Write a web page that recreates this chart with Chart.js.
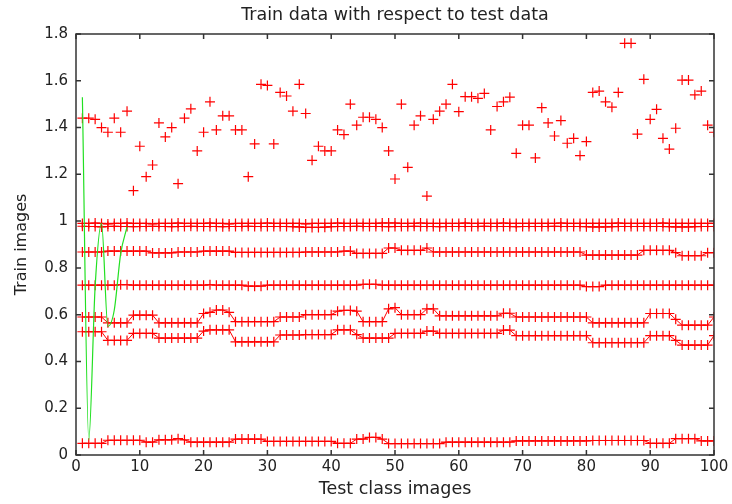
<!DOCTYPE html>
<html>
<head>
<meta charset="utf-8">
<title>Train data with respect to test data</title>
<script src="https://cdn.jsdelivr.net/npm/chart.js@4.4.1/dist/chart.umd.min.js"></script>
<style>
    html, body { margin: 0; padding: 0; background: #fff; }
    #wrap { position: relative; width: 732px; height: 504px; }
</style>
</head>
<body>
<div id="wrap"><canvas id="chartTrain"></canvas></div>
<script>
// Datos (x = imagen de prueba 1..100)
const xTicks = [0, 10, 20, 30, 40, 50, 60, 70, 80, 90, 100];
const yTicks = [0, 0.2, 0.4, 0.6, 0.8, 1, 1.2, 1.4, 1.6, 1.8];

// Fila dispersa de arriba (solo marcadores)
const filaAlta = [
    1.44, 1.44, 1.435, 1.40, 1.38, 1.44, 1.38, 1.47, 1.13, 1.32,
    1.19, 1.24, 1.42, 1.36, 1.40, 1.16, 1.44, 1.48, 1.30, 1.38,
    1.51, 1.39, 1.45, 1.45, 1.39, 1.39, 1.19, 1.33, 1.585, 1.58,
    1.33, 1.55, 1.535, 1.47, 1.585, 1.46, 1.26, 1.32, 1.30, 1.30,
    1.39, 1.37, 1.50, 1.41, 1.444, 1.444, 1.435, 1.40, 1.30, 1.18,
    1.50, 1.23, 1.41, 1.45, 1.107, 1.435, 1.47, 1.50, 1.585, 1.468,
    1.532, 1.532, 1.525, 1.546, 1.39, 1.49, 1.51, 1.53, 1.29, 1.41,
    1.41, 1.27, 1.485, 1.42, 1.364, 1.43, 1.333, 1.354, 1.28, 1.34,
    1.55, 1.556, 1.51, 1.487, 1.55, 1.76, 1.76, 1.372, 1.606, 1.435,
    1.478, 1.354, 1.308, 1.397, 1.603, 1.603, 1.54, 1.556, 1.41, 1.38
];

// Filas casi constantes (linea + marcadores)
const fila099 = [
    0.99, 0.99, 0.992, 0.99, 0.988, 0.99, 0.99, 0.992, 0.99, 0.99,
    0.99, 0.988, 0.99, 0.99, 0.99, 0.992, 0.99, 0.99, 0.99, 0.99,
    0.992, 0.99, 0.99, 0.988, 0.99, 0.99, 0.99, 0.99, 0.99, 0.992,
    0.99, 0.99, 0.99, 0.99, 0.99, 0.988, 0.99, 0.99, 0.99, 0.99,
    0.992, 0.99, 0.99, 0.99, 0.99, 0.99, 0.99, 0.992, 0.992, 0.992,
    0.99, 0.99, 0.99, 0.992, 0.99, 0.99, 0.99, 0.99, 0.99, 0.99,
    0.992, 0.99, 0.99, 0.99, 0.99, 0.99, 0.992, 0.99, 0.99, 0.99,
    0.99, 0.99, 0.99, 0.99, 0.99, 0.992, 0.99, 0.99, 0.99, 0.99,
    0.99, 0.99, 0.99, 0.99, 0.992, 0.99, 0.99, 0.99, 0.99, 0.99,
    0.99, 0.992, 0.99, 0.99, 0.99, 0.99, 0.99, 0.99, 0.99, 0.99
];
const fila098 = [
    0.978, 0.977, 0.977, 0.975, 0.977, 0.978, 0.977, 0.977, 0.976, 0.977,
    0.977, 0.978, 0.977, 0.977, 0.976, 0.977, 0.977, 0.978, 0.977, 0.977,
    0.977, 0.977, 0.976, 0.977, 0.977, 0.977, 0.978, 0.977, 0.977, 0.977,
    0.977, 0.977, 0.977, 0.976, 0.975, 0.973, 0.973, 0.973, 0.974, 0.976,
    0.977, 0.977, 0.977, 0.978, 0.977, 0.977, 0.977, 0.977, 0.976, 0.977,
    0.977, 0.977, 0.978, 0.977, 0.977, 0.977, 0.976, 0.977, 0.977, 0.977,
    0.977, 0.977, 0.977, 0.978, 0.977, 0.977, 0.977, 0.977, 0.976, 0.977,
    0.977, 0.977, 0.977, 0.977, 0.978, 0.977, 0.977, 0.977, 0.977, 0.976,
    0.975, 0.975, 0.975, 0.976, 0.977, 0.977, 0.977, 0.977, 0.977, 0.977,
    0.977, 0.977, 0.976, 0.975, 0.975, 0.975, 0.976, 0.977, 0.977, 0.977
];
const fila087 = [
    0.868, 0.868, 0.868, 0.868, 0.872, 0.872, 0.872, 0.872, 0.872, 0.872,
    0.872, 0.864, 0.864, 0.864, 0.864, 0.868, 0.868, 0.868, 0.868, 0.872,
    0.872, 0.872, 0.872, 0.872, 0.866, 0.866, 0.866, 0.866, 0.866, 0.866,
    0.866, 0.866, 0.866, 0.866, 0.866, 0.868, 0.868, 0.868, 0.868, 0.868,
    0.868, 0.872, 0.872, 0.862, 0.862, 0.862, 0.862, 0.862, 0.885, 0.885,
    0.875, 0.875, 0.875, 0.875, 0.885, 0.868, 0.868, 0.868, 0.868, 0.868,
    0.868, 0.868, 0.868, 0.868, 0.868, 0.868, 0.868, 0.868, 0.868, 0.868,
    0.868, 0.868, 0.868, 0.868, 0.868, 0.868, 0.868, 0.868, 0.868, 0.855,
    0.855, 0.855, 0.855, 0.855, 0.855, 0.855, 0.855, 0.855, 0.875, 0.875,
    0.875, 0.875, 0.875, 0.865, 0.852, 0.852, 0.852, 0.852, 0.865, 0.865
];
const fila072 = [
    0.726, 0.726, 0.726, 0.726, 0.726, 0.726, 0.728, 0.728, 0.726, 0.726,
    0.726, 0.726, 0.726, 0.726, 0.726, 0.726, 0.726, 0.726, 0.726, 0.726,
    0.728, 0.726, 0.726, 0.726, 0.726, 0.726, 0.722, 0.722, 0.722, 0.726,
    0.726, 0.726, 0.726, 0.726, 0.726, 0.726, 0.726, 0.726, 0.726, 0.726,
    0.726, 0.726, 0.726, 0.726, 0.73, 0.73, 0.73, 0.726, 0.726, 0.726,
    0.726, 0.726, 0.726, 0.726, 0.726, 0.726, 0.726, 0.726, 0.726, 0.726,
    0.726, 0.726, 0.726, 0.726, 0.726, 0.726, 0.726, 0.726, 0.726, 0.726,
    0.726, 0.726, 0.726, 0.726, 0.726, 0.726, 0.726, 0.726, 0.726, 0.72,
    0.72, 0.72, 0.726, 0.726, 0.726, 0.726, 0.726, 0.726, 0.726, 0.726,
    0.726, 0.726, 0.726, 0.726, 0.726, 0.726, 0.726, 0.726, 0.726, 0.726
];
const fila059 = [
    0.59, 0.59, 0.59, 0.59, 0.565, 0.565, 0.565, 0.565, 0.598, 0.598,
    0.598, 0.598, 0.565, 0.565, 0.565, 0.565, 0.565, 0.565, 0.565, 0.605,
    0.61, 0.62, 0.62, 0.61, 0.57, 0.57, 0.57, 0.57, 0.57, 0.57,
    0.57, 0.59, 0.59, 0.59, 0.59, 0.60, 0.60, 0.60, 0.60, 0.60,
    0.615, 0.618, 0.618, 0.615, 0.57, 0.57, 0.57, 0.57, 0.625, 0.63,
    0.60, 0.60, 0.60, 0.60, 0.625, 0.625, 0.595, 0.595, 0.595, 0.595,
    0.595, 0.595, 0.595, 0.595, 0.595, 0.595, 0.606, 0.606, 0.59, 0.59,
    0.59, 0.59, 0.59, 0.59, 0.59, 0.59, 0.59, 0.59, 0.59, 0.59,
    0.565, 0.565, 0.565, 0.565, 0.565, 0.565, 0.565, 0.565, 0.565, 0.605,
    0.605, 0.605, 0.605, 0.58, 0.555, 0.555, 0.555, 0.555, 0.555, 0.59
];
const fila051 = [
    0.527, 0.527, 0.527, 0.527, 0.49, 0.49, 0.49, 0.49, 0.52, 0.52,
    0.52, 0.52, 0.50, 0.50, 0.50, 0.50, 0.50, 0.50, 0.50, 0.53,
    0.535, 0.535, 0.535, 0.535, 0.484, 0.484, 0.484, 0.484, 0.484, 0.484,
    0.484, 0.513, 0.513, 0.513, 0.513, 0.515, 0.515, 0.515, 0.515, 0.515,
    0.535, 0.535, 0.535, 0.515, 0.50, 0.50, 0.50, 0.50, 0.50, 0.52,
    0.52, 0.52, 0.52, 0.52, 0.53, 0.53, 0.52, 0.52, 0.52, 0.52,
    0.52, 0.52, 0.52, 0.52, 0.52, 0.52, 0.534, 0.534, 0.51, 0.51,
    0.51, 0.51, 0.51, 0.51, 0.51, 0.51, 0.51, 0.51, 0.51, 0.51,
    0.48, 0.48, 0.48, 0.48, 0.48, 0.48, 0.48, 0.48, 0.48, 0.51,
    0.51, 0.51, 0.51, 0.49, 0.47, 0.47, 0.47, 0.47, 0.47, 0.51
];
const fila006 = [
    0.05, 0.05, 0.05, 0.05, 0.063, 0.063, 0.063, 0.063, 0.063, 0.063,
    0.055, 0.055, 0.065, 0.065, 0.065, 0.07, 0.065, 0.055, 0.055, 0.055,
    0.055, 0.055, 0.055, 0.055, 0.068, 0.068, 0.068, 0.068, 0.068, 0.058,
    0.058, 0.058, 0.058, 0.058, 0.058, 0.058, 0.058, 0.058, 0.058, 0.058,
    0.05, 0.05, 0.05, 0.068, 0.068, 0.075, 0.075, 0.068, 0.049, 0.049,
    0.049, 0.049, 0.049, 0.049, 0.049, 0.049, 0.049, 0.055, 0.055, 0.055,
    0.055, 0.055, 0.055, 0.055, 0.055, 0.055, 0.055, 0.055, 0.06, 0.06,
    0.06, 0.06, 0.06, 0.06, 0.06, 0.06, 0.06, 0.06, 0.06, 0.06,
    0.062, 0.062, 0.062, 0.062, 0.062, 0.062, 0.062, 0.062, 0.062, 0.05,
    0.05, 0.05, 0.05, 0.07, 0.07, 0.07, 0.07, 0.06, 0.06, 0.06
];

// Curva verde (primeras 8 imagenes)
const verdeX = [1, 2, 3, 4, 5, 6, 7, 8];
const verdeY = [1.53, 0.065, 0.72, 0.99, 0.55, 0.62, 0.86, 0.975];

const ROJO = '#ff0000';
const VERDE = '#22e022';
const FUENTE = 'DejaVu Sans';

// Convertir una fila en puntos {x, y}
function aPuntos(valores) {
    return valores.map((v, i) => ({ x: i + 1, y: v }));
}

function filaRoja(valores, conLinea) {
    return {
        data: aPuntos(valores),
        showLine: conLinea,
        borderColor: ROJO,
        borderWidth: 1,
        pointStyle: 'cross',
        pointRadius: 5,
        pointBorderWidth: 1.2,
        pointBorderColor: ROJO,
        pointBackgroundColor: ROJO,
        pointHoverBorderColor: ROJO,
        tension: 0
    };
}

// Caja y marcas interiores estilo MATLAB
const ejesMatlab = {
    id: 'ejesMatlab',
    afterDraw(chart) {
        const { ctx, chartArea: a, scales: { x, y } } = chart;
        ctx.save();
        ctx.strokeStyle = '#333';
        ctx.lineWidth = 1.5;
        ctx.strokeRect(a.left, a.top, a.right - a.left, a.bottom - a.top);
        ctx.beginPath();
        x.ticks.forEach(t => {
            const px = x.getPixelForValue(t.value);
            ctx.moveTo(px, a.bottom); ctx.lineTo(px, a.bottom - 5);
            ctx.moveTo(px, a.top); ctx.lineTo(px, a.top + 5);
        });
        y.ticks.forEach(t => {
            const py = y.getPixelForValue(t.value);
            ctx.moveTo(a.left, py); ctx.lineTo(a.left + 5, py);
            ctx.moveTo(a.right, py); ctx.lineTo(a.right - 5, py);
        });
        ctx.stroke();
        ctx.restore();
    }
};

document.addEventListener('DOMContentLoaded', function() {
    const ctx = document.getElementById('chartTrain');

    const datasets = [
        {
            data: verdeX.map((x, i) => ({ x: x, y: verdeY[i] })),
            borderColor: VERDE,
            borderWidth: 1.2,
            pointRadius: 0,
            cubicInterpolationMode: 'monotone'
        },
        filaRoja(filaAlta, false),
        filaRoja(fila099, true),
        filaRoja(fila098, true),
        filaRoja(fila087, true),
        filaRoja(fila072, true),
        filaRoja(fila059, true),
        filaRoja(fila051, true),
        filaRoja(fila006, true)
    ];

    new Chart(ctx, {
        type: 'line',
        data: { datasets: datasets },
        options: {
            responsive: true,
            maintainAspectRatio: false,
            animation: false,
            events: [],
            layout: { padding: { left: 0, right: 18, top: 0, bottom: 0 } },
            plugins: {
                legend: { display: false },
                tooltip: { enabled: false },
                title: {
                    display: true,
                    fullSize: false,
                    text: 'Train data with respect to test data',
                    color: '#222',
                    font: { family: FUENTE, size: 17.5, weight: 'normal' },
                    padding: { top: 5, bottom: 8 }
                }
            },
            scales: {
                x: {
                    type: 'linear',
                    min: 0,
                    max: 100,
                    afterBuildTicks: s => { s.ticks = xTicks.map(v => ({ value: v })); },
                    ticks: {
                        color: '#222',
                        font: { family: FUENTE, size: 15 },
                        padding: 3,
                        maxRotation: 0,
                        autoSkip: false
                    },
                    grid: { display: false, drawTicks: false },
                    border: { display: false },
                    title: {
                        display: true,
                        text: 'Test class images',
                        color: '#222',
                        font: { family: FUENTE, size: 17.5 },
                        padding: { top: 0, bottom: 4 }
                    },
                    afterFit: s => { s.height = 49; }
                },
                y: {
                    min: 0,
                    max: 1.8,
                    afterBuildTicks: s => { s.ticks = yTicks.map(v => ({ value: v })); },
                    ticks: {
                        color: '#222',
                        font: { family: FUENTE, size: 15 },
                        padding: 8,
                        autoSkip: false,
                        callback: v => String(+v.toFixed(1))
                    },
                    grid: { display: false, drawTicks: false },
                    border: { display: false },
                    title: {
                        display: true,
                        text: 'Train images',
                        color: '#222',
                        font: { family: FUENTE, size: 16 },
                        padding: { top: 12, bottom: 0 }
                    },
                    afterFit: s => { s.width = 76; }
                }
            }
        },
        plugins: [ejesMatlab]
    });
});
</script>
</body>
</html>
